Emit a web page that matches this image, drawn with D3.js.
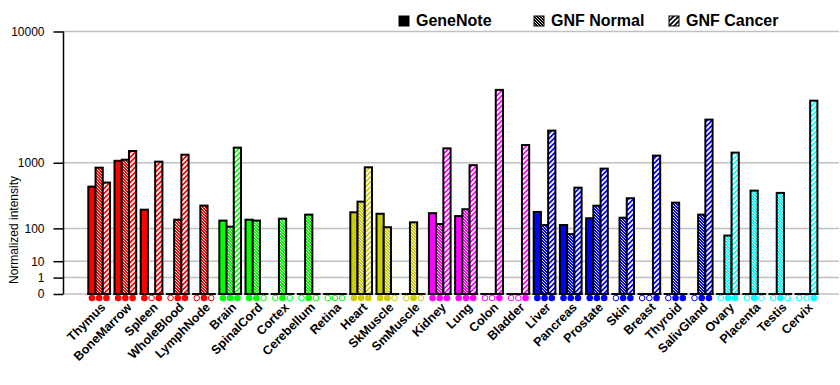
<!DOCTYPE html>
<html lang="en">
<head>
	<meta charset="UTF-8">
	<title>GeneNote vs GNF</title>
	<script src="https://cdn.jsdelivr.net/npm/d3@7"></script>
	<style>
		body { margin: 0; background: #fff; }
		text { font-family: "Liberation Sans", Arial, sans-serif; }
	</style>
</head>
<body>
	<svg id="grafico" width="840" height="385"></svg>
	<script>

	// tissues, left to right
	var tissues = ["Thymus","BoneMarrow","Spleen","WholeBlood","LymphNode",
		"Brain","SpinalCord","Cortex","Cerebellum","Retina",
		"Heart","SkMuscle","SmMuscle",
		"Kidney","Lung","Colon","Bladder",
		"Liver","Pancreas","Prostate","Skin","Breast","Thyroid","SalivGland",
		"Ovary","Placenta","Testis","Cervix"];

	// tissue family (gives the colour)
	var families = ["blood","blood","blood","blood","blood",
		"nerve","nerve","nerve","nerve","nerve",
		"muscle","muscle","muscle",
		"organ","organ","organ","organ",
		"gland","gland","gland","gland","gland","gland","gland",
		"repro","repro","repro","repro"];

	var series = ["GeneNote","GNF Normal","GNF Cancer"];

	var geneNote  = [513,1050,230,0,0, 145,151,0,0,0, 207,195,0, 200,177,0,0, 210,118,161,0,0,0,0, 0,0,0,0];
	var gnfNormal = [881,1079,0,151,269, 109,145,158,188,0, 311,106,134, 124,234,0,0, 118,74,268,165,0,300,188, 68,452,420,0];
	var gnfCancer = [580,1330,1028,1219,0, 1436,0,0,0,0, 889,0,0, 1413,940,4335,1524, 2070,497,859,351,1192,0,2570, 1280,0,0,3620];

	// present (1) / absent (0) call for GeneNote, GNF Normal, GNF Cancer
	var calls = ["111","111","101","011","010", "111","110","010","010","000",
		"111","110","010", "111","111","001","001",
		"111","111","111","011","001","011","011",
		"011","010","010","001"];

	var yTicks = [0,1,10,100,1000,10000];

	var svg = d3.select("#grafico");
	var top0 = 31.5, base = 294, left = 63.5, right = 839;

	var cor = d3.scaleOrdinal()
		.domain(["blood","nerve","muscle","organ","gland","repro"])
		.range(["#ff0000","#00ff00","#cccc00","#ff00ff","#0000ff","#00ffff"]);

	var y = d3.scalePow().exponent(Math.log10(2)).domain([0,10000]).range([base, top0]);
	var x = d3.scaleBand().domain(tissues).range([83.8, 821.9]).paddingInner(0.172).paddingOuter(0.172);
	var xs = d3.scaleBand().domain(series).range([0, x.bandwidth()]);

	// patterns
	var defs = svg.append("defs");
	function hatch(id, c, bg, tipo){
		var p = defs.append("pattern").attr("id", id)
			.attr("patternUnits","userSpaceOnUse");
		if (tipo === "n"){
			p.attr("width",3).attr("height",3);
			p.append("rect").attr("width",3).attr("height",3).attr("fill",bg);
			p.append("path").attr("d","M0,0L3,3M-1,2L1,4M2,-1L4,1")
				.attr("stroke",c).attr("stroke-width",0.9);
		} else {
			p.attr("width",5).attr("height",5);
			p.append("rect").attr("width",5).attr("height",5).attr("fill",bg);
			p.append("path").attr("d","M0,5L5,0M-1,1L1,-1M4,6L6,4")
				.attr("stroke",c).attr("stroke-width",1.8);
		}
	}
	cor.domain().forEach(function(f){
		hatch("n-"+f, "#fff", cor(f), "n");
		hatch("c-"+f, "#fff", cor(f), "c");
	});
	hatch("n-leg", "#fff", "#000", "n");
	hatch("c-leg", "#000", "#fff", "c");

	// grid
	svg.append("g").selectAll("line").data(yTicks).enter().append("line")
		.attr("x1", left).attr("x2", right)
		.attr("y1", function(d){return y(d);}).attr("y2", function(d){return y(d);})
		.attr("stroke","#c0c0c0").attr("stroke-width",1.5);

	// y axis
	var yAxis = d3.axisLeft(y).tickValues(yTicks).tickSize(10).tickPadding(9).tickFormat(d3.format("d"));
	var ga = svg.append("g").attr("transform","translate("+left+",0)").call(yAxis);
	ga.select(".domain").attr("stroke","#000").attr("stroke-width",1.5).attr("d","M0,"+top0+"V"+base);
	ga.selectAll(".tick line").attr("stroke","#000").attr("stroke-width",1.5);
	ga.selectAll(".tick text").attr("font-size",12).attr("fill","#000")
		.style("font-family","'Liberation Sans', Arial, sans-serif");

	svg.append("text").attr("transform","translate(18,230) rotate(-90)")
		.attr("text-anchor","middle").attr("font-size",12).text("Normalized intensity");

	// bars
	var valores = [geneNote, gnfNormal, gnfCancer];
	var dados = [];
	tissues.forEach(function(t,i){
		series.forEach(function(s,j){
			dados.push({t:t, s:s, j:j, v:valores[j][i], f:families[i], call:calls[i][j] === "1"});
		});
	});

	function fill(d){
		if (d.j === 0) return cor(d.f);
		return "url(#" + (d.j === 1 ? "n-" : "c-") + d.f + ")";
	}

	svg.append("g").selectAll("rect").data(dados.filter(function(d){return d.v > 0;})).enter().append("rect")
		.attr("x", function(d){return x(d.t) + xs(d.s);})
		.attr("y", function(d){return y(d.v);})
		.attr("width", xs.bandwidth())
		.attr("height", function(d){return base - y(d.v);})
		.attr("fill", fill)
		.attr("stroke","#000").attr("stroke-width",2);

	// group base lines
	svg.append("g").selectAll("line").data(tissues).enter().append("line")
		.attr("x1", function(d){return x(d) - 1;}).attr("x2", function(d){return x(d) + x.bandwidth() + 1;})
		.attr("y1", base).attr("y2", base)
		.attr("stroke","#000").attr("stroke-width",2);

	// present / absent markers
	svg.append("g").selectAll("circle").data(dados).enter().append("circle")
		.attr("cx", function(d){return x(d.t) + xs(d.s) + xs.bandwidth()/2;})
		.attr("cy", 298)
		.attr("r", function(d){return d.call ? 3.3 : 2.8;})
		.attr("fill", function(d){return d.call ? cor(d.f) : "#fff";})
		.attr("stroke", function(d){return cor(d.f);})
		.attr("stroke-width", function(d){return d.call ? 0 : 1;});

	// tissue labels
	svg.append("g").selectAll("text").data(tissues).enter().append("text")
		.attr("transform", function(d){return "translate("+(x(d) + x.bandwidth()/2 + 7)+",308) rotate(-45)";})
		.attr("text-anchor","end")
		.attr("font-size",12.5).attr("font-weight","bold")
		.text(function(d){return d;});

	// legend
	var leg = [{n:"GeneNote", f:"#000", x:399}, {n:"GNF Normal", f:"url(#n-leg)", x:534}, {n:"GNF Cancer", f:"url(#c-leg)", x:669}];
	var lg = svg.append("g").selectAll("g").data(leg).enter().append("g");
	lg.append("rect").attr("x", function(d){return d.x;}).attr("y",16).attr("width",10).attr("height",10)
		.attr("fill", function(d){return d.f;}).attr("stroke","#000").attr("stroke-width",1);
	lg.append("text").attr("x", function(d){return d.x + 17;}).attr("y",26)
		.attr("font-size",16).attr("font-weight","bold").text(function(d){return d.n;});
	</script>
</body>
</html>
